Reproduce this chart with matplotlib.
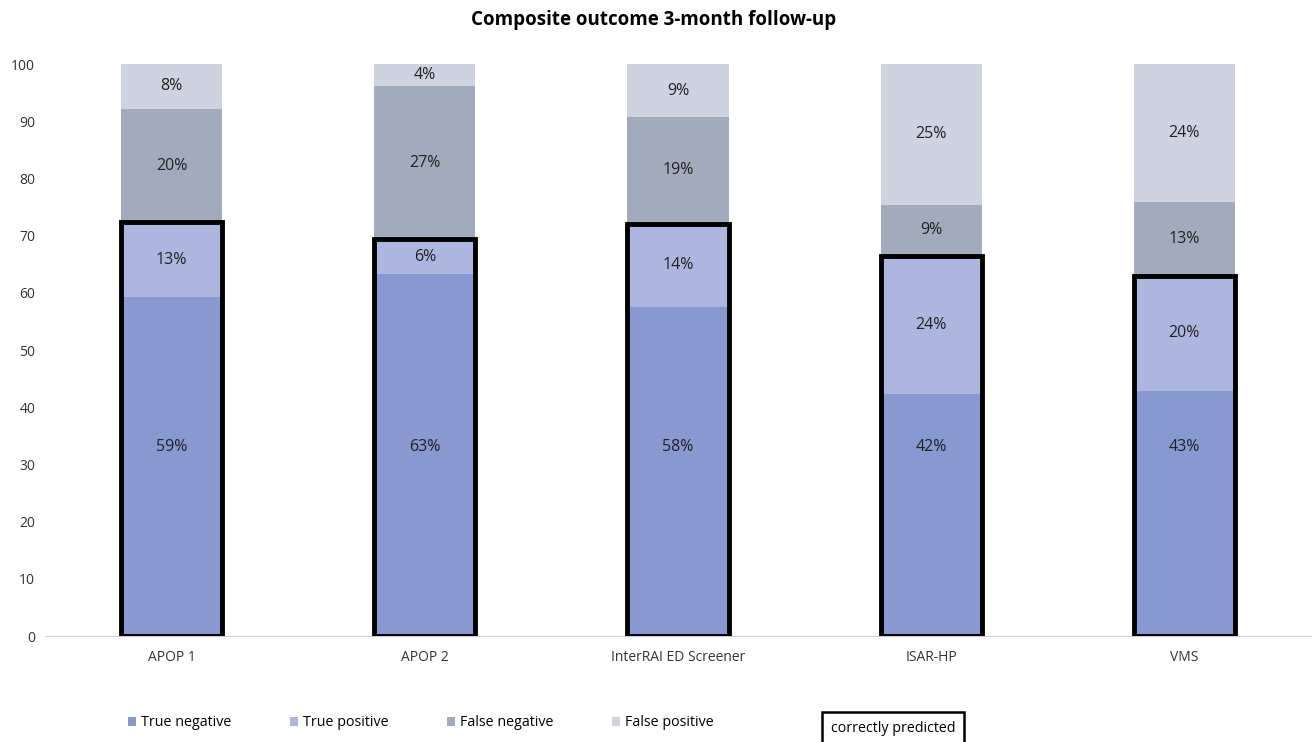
import matplotlib
matplotlib.use("Agg")
import matplotlib.pyplot as plt
from matplotlib.patches import Rectangle
import numpy as np

categories = ["APOP 1", "APOP 2", "InterRAI ED Screener", "ISAR-HP", "VMS"]
true_negative = [59.2, 63.2, 57.6, 42.3, 42.9]
true_positive = [13.1, 6.2, 14.5, 24.1, 20.0]
false_negative = [19.9, 26.7, 18.6, 9.0, 13.0]
false_positive = [7.8, 3.9, 9.3, 24.6, 24.1]
series_names = ["True negative", "True positive", "False negative", "False positive"]
series_colors = ["#8898D0", "#ACB6DE", "#A2AABD", "#CFD3DF"]

plt.rcParams["font.family"] = ["Open Sans", "DejaVu Sans"]

fig = plt.figure(figsize=(13.14, 7.42), dpi=100)
ax = fig.add_axes([45 / 1314, 1 - 636 / 742, 1266 / 1314, 572 / 742])

x = np.arange(len(categories))
width = 0.4
bottom = np.zeros(len(categories))
handles = []
for i, (vals, name, col) in enumerate(zip(
        [true_negative, true_positive, false_negative, false_positive],
        series_names, series_colors)):
    vals = np.array(vals)
    bars = ax.bar(x, vals, width, bottom=bottom, color=col, label=name, zorder=2)
    handles.append(bars)
    for xi, b, v in zip(x, bottom, vals):
        # the bottom segment labels sit at a common height, as in the original
        ypos = 33 if i == 0 else b + v / 2
        ax.text(xi, ypos, f"{round(v):d}%", ha="center", va="center",
                fontsize=11.5, color="#222222", zorder=4)
    bottom += vals

# black boxes round the correctly predicted part (TN + TP)
correct = np.array(true_negative) + np.array(true_positive)
for xi, c in zip(x, correct):
    ax.add_patch(Rectangle((xi - width / 2, 0), width, c, fill=False,
                           edgecolor="black", linewidth=3.5, zorder=3))

ax.set_xlim(-0.5, len(categories) - 0.5)
ax.set_ylim(0, 100)
ax.set_yticks(range(0, 101, 10))
ax.set_xticks(x)
ax.set_xticklabels(categories)
ax.tick_params(axis="both", length=0, labelsize=10, colors="#333333")
ax.tick_params(axis="x", pad=10)
ax.tick_params(axis="y", pad=7)
for side in ["top", "right", "left"]:
    ax.spines[side].set_visible(False)
ax.spines["bottom"].set_color("#D0D0D0")

fig.text(654 / 1314, 1 - 20 / 742, "Composite outcome 3-month follow-up",
         ha="center", va="center", fontsize=13.5, fontweight="bold")

leg = fig.legend(handles=handles, labels=series_names, loc="center left",
                 bbox_to_anchor=(128 / 1314, 1 - 723 / 742), ncol=4, frameon=False,
                 fontsize=10.3, handlelength=0.55, handleheight=0.55, handletextpad=0.35,
                 columnspacing=4.1, borderaxespad=0, borderpad=0)
fig.text(893 / 1314, 1 - 728 / 742, "correctly predicted", ha="center", va="center",
         fontsize=10.3,
         bbox=dict(boxstyle="square,pad=0.6", facecolor="white", edgecolor="black",
                   linewidth=1.8))

fig.savefig("out.png", dpi=100)
